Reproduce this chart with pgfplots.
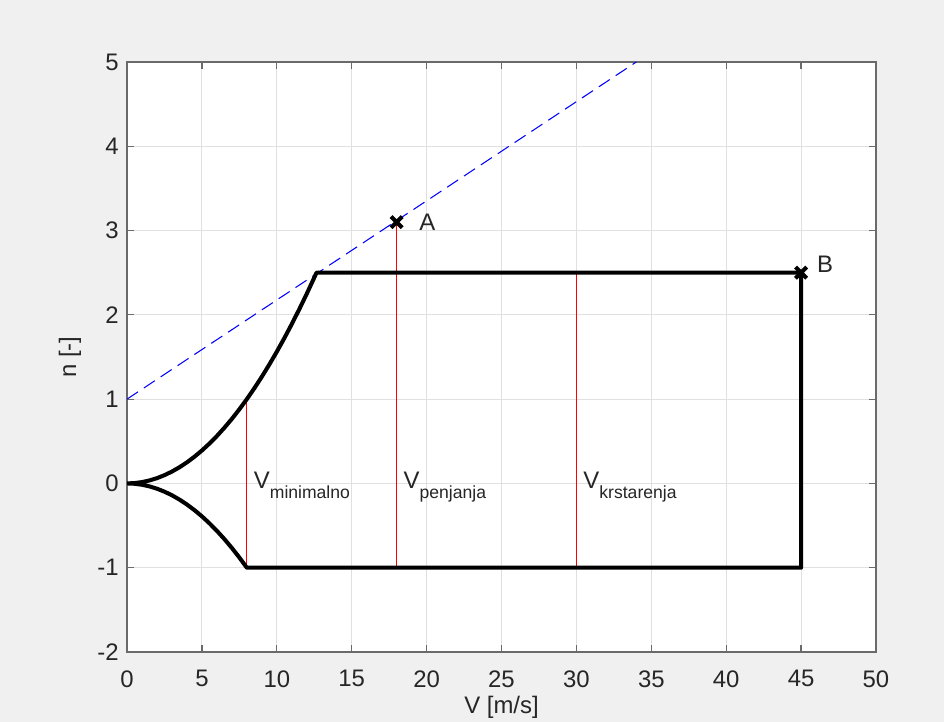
\documentclass[border=0pt]{standalone}
\usepackage{fontspec}
\setmainfont{Liberation Sans}
\usepackage{pgfplots}
\pgfplotsset{compat=1.18}
\definecolor{figbg}{HTML}{F0F0F0}
\definecolor{axcol}{HTML}{262626}
\definecolor{axline}{HTML}{6A6A6A}
\definecolor{gridcol}{HTML}{E0E0E0}
\begin{document}
\fontsize{13.6}{16}\selectfont
\begin{tikzpicture}
\useasboundingbox (0,0) rectangle (18.88cm,14.44cm);
\fill[figbg] (0,0) rectangle (18.88cm,14.44cm);
\begin{axis}[
    at={(2.54cm,1.4cm)}, anchor=south west,
    scale only axis, width=14.98cm, height=11.8cm,
    xmin=0, xmax=50, ymin=-2, ymax=5,
    xtick={0,5,...,50}, ytick={-2,-1,...,5},
    grid=major, grid style={gridcol, line width=0.5pt},
    axis line style={axline, line width=0.7pt},
    tick style={axline, line width=0.7pt},
    major tick length=0.14cm, tick align=inside,
    ticklabel style={text=axcol, font=\fontsize{13.6}{16}\selectfont},
    xticklabel style={yshift=-0.2cm},
    /pgf/number format/assume math mode=true,
    xlabel={V [m/s]}, ylabel={n [-]},
    label style={text=axcol, font=\fontsize{13.6}{16}\selectfont},
    xlabel style={yshift=0.14cm},
    axis background/.style={fill=white},
]
% red speed lines
\addplot[red, line width=0.6pt] coordinates {(8,-1) (8,1)};
\addplot[red, line width=0.6pt] coordinates {(18,-1) (18,3.1)};
\addplot[red, line width=0.6pt] coordinates {(30,-1) (30,2.5)};
% gust line
\addplot[blue, line width=0.6pt, dash pattern=on 7.5pt off 4pt] coordinates {(0,1) (34,5)};
% envelope
\addplot[black, line width=2.3pt, line join=round] coordinates {
    (0,0) (0.5,0.0039) (1,0.0156) (1.5,0.0352) (2,0.0625) (2.5,0.0977)
    (3,0.1406) (3.5,0.1914) (4,0.25) (4.5,0.3164) (5,0.3906) (5.5,0.4727)
    (6,0.5625) (6.5,0.6602) (7,0.7656) (7.5,0.8789) (8,1) (8.5,1.1289)
    (9,1.2656) (9.5,1.4102) (10,1.5625) (10.5,1.7227) (11,1.8906)
    (11.5,2.0664) (12,2.25) (12.5,2.4414) (12.65,2.5)
    (45,2.5) (45,-1) (8,-1)
    (7.5,-0.8789) (7,-0.7656) (6.5,-0.6602) (6,-0.5625) (5.5,-0.4727)
    (5,-0.3906) (4.5,-0.3164) (4,-0.25) (3.5,-0.1914) (3,-0.1406)
    (2.5,-0.0977) (2,-0.0625) (1.5,-0.0352) (1,-0.0156) (0.5,-0.0039) (0,0)
};
% points A and B
\addplot[only marks, black, mark=x, mark size=4.5pt, line width=2.3pt] coordinates {(18,3.1) (45,2.5)};
\node[anchor=west, inner sep=0, text=axcol] at (axis cs:19.5,3.1) {A};
\node[anchor=west, inner sep=0, text=axcol] at (axis cs:46.05,2.6) {B};
\node[anchor=base west, inner sep=0, text=axcol] at (axis cs:8.45,-0.06)
    {V\raisebox{-5.7pt}{\fontsize{10}{12}\selectfont minimalno}};
\node[anchor=base west, inner sep=0, text=axcol] at (axis cs:18.45,-0.06)
    {V\raisebox{-5.7pt}{\fontsize{10}{12}\selectfont penjanja}};
\node[anchor=base west, inner sep=0, text=axcol] at (axis cs:30.45,-0.06)
    {V\raisebox{-5.7pt}{\fontsize{10}{12}\selectfont krstarenja}};
\end{axis}
\end{tikzpicture}
\end{document}
